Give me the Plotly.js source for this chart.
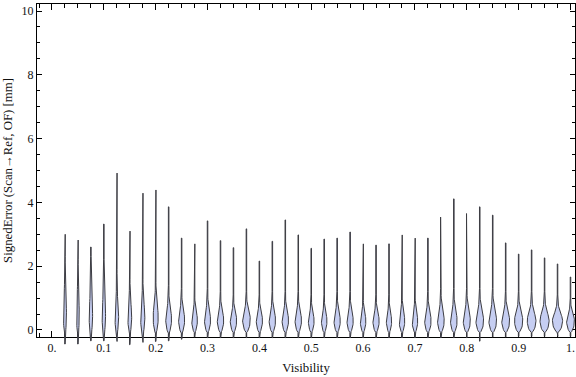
<!DOCTYPE html>
<html>
<head>
<meta charset="utf-8">
<script src="https://cdn.plot.ly/plotly-3.0.1.min.js"></script>
<style>html,body{margin:0;padding:0;background:#fff;}#chart{width:576px;height:377px;}</style>
</head>
<body>
<div id="chart"></div>
<script>
// ---- data ----
const visibility = [0.025,0.05,0.075,0.1,0.125,0.15,0.175,0.2,0.225,0.25,
                    0.275,0.3,0.325,0.35,0.375,0.4,0.425,0.45,0.475,0.5,
                    0.525,0.55,0.575,0.6,0.625,0.65,0.675,0.7,0.725,0.75,
                    0.775,0.8,0.825,0.85,0.875,0.9,0.925,0.95,0.975,1.0];
const maxError = [3.0,2.82,2.6,3.32,4.92,3.1,4.29,4.39,3.86,2.88,
                  2.7,3.42,2.8,2.58,3.17,2.16,2.78,3.45,2.98,2.56,
                  2.85,2.88,3.07,2.7,2.66,2.7,2.98,2.88,2.88,3.54,
                  4.11,3.65,3.86,3.6,2.73,2.38,2.51,2.26,2.07,1.66];
const minError = [-0.44,-0.44,-0.34,-0.34,-0.36,-0.46,-0.39,-0.36,-0.34,-0.29,
                  -0.22,-0.24,-0.24,-0.24,-0.24,-0.24,-0.24,-0.24,-0.24,-0.24,
                  -0.24,-0.24,-0.24,-0.24,-0.24,-0.24,-0.24,-0.24,-0.24,-0.24,
                  -0.24,-0.24,-0.35,-0.22,-0.22,-0.2,-0.2,-0.2,-0.2,-0.2];
const bulbLow  = [-0.12,-0.12,-0.12,-0.12,-0.12,-0.12,-0.12,-0.1,-0.1,-0.1,
                  -0.08,-0.08,-0.08,-0.08,-0.08,-0.08,-0.08,-0.08,-0.08,-0.08,
                  -0.08,-0.08,-0.08,-0.08,-0.08,-0.08,-0.08,-0.08,-0.08,-0.08,
                  -0.08,-0.08,-0.08,-0.08,-0.08,-0.08,-0.08,-0.08,-0.08,-0.08];
const bulbMode = [0.45,0.45,0.42,0.42,0.42,0.42,0.42,0.4,0.36,0.34,
                  0.32,0.32,0.32,0.32,0.35,0.32,0.32,0.32,0.32,0.3,
                  0.3,0.3,0.3,0.3,0.3,0.3,0.3,0.3,0.3,0.3,
                  0.3,0.3,0.3,0.3,0.3,0.3,0.3,0.3,0.3,0.3];
const bulbTop  = [2.6,2.5,2.3,2.2,2.0,1.9,1.9,1.8,1.4,1.3,
                  1.2,1.3,1.2,1.1,1.2,1.1,1.2,1.2,1.2,1.1,
                  1.1,1.2,1.2,1.1,1.1,1.1,1.2,1.2,1.2,1.3,
                  1.3,1.3,1.3,1.3,1.2,1.2,1.2,1.2,1.1,1.0];
const peakDensity = [0.3,0.27,0.34,0.34,0.36,0.38,0.42,0.5,0.58,0.6,
                     0.56,0.6,0.64,0.64,0.76,0.62,0.64,0.64,0.64,0.57,
                     0.55,0.62,0.62,0.55,0.62,0.53,0.55,0.55,0.64,0.66,
                     0.66,0.7,0.76,0.76,0.78,0.82,0.86,0.9,1.0,0.78];
const xTickVals = [0,0.1,0.2,0.3,0.4,0.5,0.6,0.7,0.8,0.9,1.0];
const xTickText = ['0.','0.1','0.2','0.3','0.4','0.5','0.6','0.7','0.8','0.9','1.'];
const yTickVals = [0,2,4,6,8,10];
const yTickText = ['0','2','4','6','8','10'];

// ---- violin outline template (style) ----
const lowerU = [0,0.08,0.16,0.25,0.35,0.45,0.55,0.65,0.75,0.85,0.93,1.0];
const lowerW = [0.06,0.3,0.45,0.58,0.7,0.79,0.86,0.91,0.95,0.98,0.995,1.0];
const upperV = [0.05,0.1,0.15,0.2,0.25,0.3,0.35,0.4,0.45,0.5,0.55,0.6,0.65,0.7,0.78,0.86,0.93,1.0];
const upperW = [0.98,0.93,0.85,0.76,0.66,0.56,0.47,0.39,0.32,0.26,0.21,0.17,0.14,0.11,0.08,0.06,0.05,0.04];
const widthScale = 0.0098;   // x-units per unit density (half width)
const tailHalf = 0.0005;     // x-units

const traces = [];
traces.push({x:[0.5], y:[5], xaxis:'x', yaxis:'y', mode:'markers',
             marker:{opacity:0}, hoverinfo:'skip', showlegend:false});

for (let i = 0; i < visibility.length; i++) {
  const p = visibility[i];
  const W = peakDensity[i] * widthScale;
  const ys = [], ws = [];
  ys.push(minError[i]); ws.push(tailHalf);
  for (let k = 0; k < lowerU.length; k++) {
    ys.push(bulbLow[i] + lowerU[k] * (bulbMode[i] - bulbLow[i]));
    ws.push(Math.max(tailHalf, lowerW[k] * W));
  }
  for (let k = 0; k < upperV.length; k++) {
    ys.push(bulbMode[i] + upperV[k] * (bulbTop[i] - bulbMode[i]));
    ws.push(Math.max(tailHalf, upperW[k] * W));
  }
  ys.push(maxError[i]); ws.push(tailHalf);
  const xs = [], yy = [];
  for (let k = 0; k < ys.length; k++) { xs.push(p + ws[k]); yy.push(ys[k]); }
  for (let k = ys.length - 1; k >= 0; k--) { xs.push(p - ws[k]); yy.push(ys[k]); }
  xs.push(xs[0]); yy.push(yy[0]);
  traces.push({
    x: xs, y: yy, xaxis:'x2', yaxis:'y2', mode:'lines', fill:'toself',
    fillcolor:'rgb(198,206,242)',
    line:{color:'rgb(60,60,66)', width:1},
    hoverinfo:'skip', showlegend:false
  });
}

const pxPerY = 333 / 10.44;
const ext = 12;
const totalH = 333 + ext;
const font = {family:'"Liberation Serif", "Times New Roman", serif', size:12, color:'#111'};
const titleFont = {family:'"Liberation Serif", "Times New Roman", serif', size:12.8, color:'#111'};
const xr = [-0.0289, 1.0087];
const layout = {
  width:576, height:377,
  margin:{l:37, r:1, t:4, b:40 - ext},
  paper_bgcolor:'#fff', plot_bgcolor:'rgba(0,0,0,0)',
  showlegend:false,
  font: font,
  xaxis:{
    domain:[0,1], range:xr, anchor:'y',
    showgrid:false, zeroline:false,
    showline:true, linecolor:'#000', linewidth:1, mirror:'allticks',
    ticks:'inside', ticklen:6, tickcolor:'#000', tickwidth:1,
    tickvals:xTickVals, ticktext:xTickText, tickfont:font, ticklabeloverflow:'allow',
    minor:{dtick:0.025, tick0:0, ticks:'inside', ticklen:4, tickcolor:'#000', tickwidth:1, showgrid:false},
    title:{text:'Visibility', font:titleFont, standoff:8}
  },
  yaxis:{
    domain:[ext/totalH, 1], range:[-0.22, 10.22], anchor:'x',
    showgrid:false, zeroline:false,
    showline:true, linecolor:'#000', linewidth:1, mirror:'allticks',
    ticks:'inside', ticklen:5, tickcolor:'#000', tickwidth:1,
    tickvals:yTickVals, ticktext:yTickText, tickfont:font,
    minor:{dtick:0.5, tick0:0, ticks:'inside', ticklen:3, tickcolor:'#000', tickwidth:1, showgrid:false},
    title:{text:'SignedError (Scan\u2192Ref, OF) [mm]', font:titleFont, standoff:6}
  },
  xaxis2:{domain:[0,1], range:xr, anchor:'y2', visible:false, fixedrange:true},
  yaxis2:{domain:[0,1], range:[-0.22 - ext/pxPerY, 10.22], anchor:'x2', visible:false, fixedrange:true}
};
Plotly.newPlot('chart', traces, layout, {staticPlot:true, displayModeBar:false});
</script>
</body>
</html>
